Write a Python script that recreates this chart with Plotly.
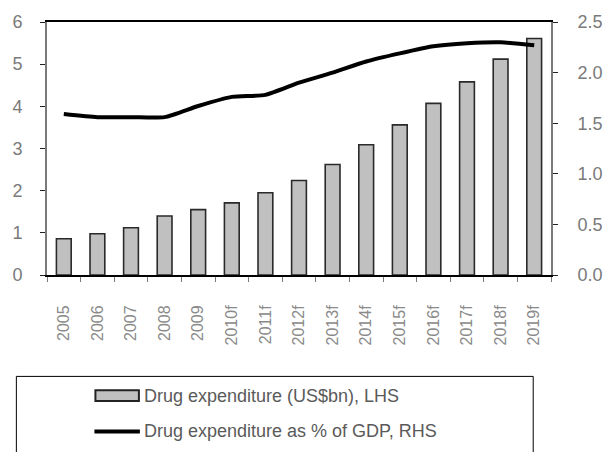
import plotly.graph_objects as go

years = ["2005", "2006", "2007", "2008", "2009", "2010f", "2011f", "2012f",
         "2013f", "2014f", "2015f", "2016f", "2017f", "2018f", "2019f"]
drug_spend_bn = [0.86, 0.98, 1.12, 1.40, 1.55, 1.71, 1.95, 2.24,
                 2.62, 3.09, 3.56, 4.07, 4.58, 5.12, 5.61]
spend_pct_gdp = [1.59, 1.56, 1.56, 1.56, 1.67, 1.76, 1.78, 1.90,
                 2.00, 2.11, 2.19, 2.26, 2.29, 2.30, 2.27]
left_ticks = [0, 1, 2, 3, 4, 5, 6]
right_ticks = [0.0, 0.5, 1.0, 1.5, 2.0, 2.5]
bar_label = "Drug expenditure (US$bn), LHS"
line_label = "Drug expenditure as % of GDP, RHS"

W, H = 615, 452
L, R, T, B = 45, 60, 18, 177
PW, PH = W - L - R, H - T - B
FONT = "Liberation Sans, Arial, sans-serif"
GREY = "#7a7a7a"


def px(x):
    return (x - L) / PW


def py(y):
    return (H - B - y) / PH


fig = go.Figure()
fig.add_trace(go.Bar(
    x=years, y=drug_spend_bn, name=bar_label, width=0.44,
    marker=dict(color="#c0c0c0", line=dict(color="#2a2a2a", width=1.6)),
    yaxis="y",
))
fig.add_trace(go.Scatter(
    x=years, y=spend_pct_gdp, name=line_label, mode="lines",
    line=dict(color="black", width=4, shape="spline", smoothing=0.6),
    yaxis="y2",
))

# legend drawn as a framed box under the axis labels
shapes = [
    dict(type="rect", xref="paper", yref="paper",
         x0=px(14), x1=px(537), y0=py(378), y1=py(470),
         line=dict(color="black", width=1), fillcolor="rgba(0,0,0,0)"),
    dict(type="rect", xref="paper", yref="paper",
         x0=px(94), x1=px(138), y0=py(392), y1=py(403),
         line=dict(color="#222", width=2), fillcolor="#c0c0c0"),
    dict(type="line", xref="paper", yref="paper",
         x0=px(93), x1=px(139), y0=py(434), y1=py(434),
         line=dict(color="black", width=4)),
]
annotations = [
    dict(text=bar_label, xref="paper", yref="paper", x=px(141), y=py(398),
         xanchor="left", yanchor="middle", showarrow=False,
         font=dict(family=FONT, size=18, color="#5a5a5a")),
    dict(text=line_label, xref="paper", yref="paper", x=px(141), y=py(433),
         xanchor="left", yanchor="middle", showarrow=False,
         font=dict(family=FONT, size=18, color="#5a5a5a")),
]

fig.update_layout(
    width=W, height=H,
    margin=dict(l=L, r=R, t=T, b=B),
    paper_bgcolor="white", plot_bgcolor="white",
    showlegend=False,
    font=dict(family=FONT, size=16, color=GREY),
    xaxis=dict(
        type="category", showline=True, linecolor="black", linewidth=2,
        mirror=True, ticks="outside", tickson="boundaries", ticklen=5,
        tickcolor=GREY, tickangle=-90, ticklabelstandoff=22,
        tickfont=dict(size=16, color="#8a8a8a"), showgrid=False,
    ),
    yaxis=dict(
        range=[0, 6], tickvals=left_ticks, ticktext=[str(v) for v in left_ticks],
        showline=True, linecolor=GREY, linewidth=2, ticks="outside",
        ticklen=5, tickcolor="#222", showgrid=False, zeroline=False,
        ticklabelstandoff=14, tickfont=dict(size=18, color=GREY),
    ),
    yaxis2=dict(
        range=[0, 2.5], tickvals=right_ticks,
        ticktext=[f"{v:.1f}" for v in right_ticks],
        overlaying="y", side="right",
        showline=True, linecolor=GREY, linewidth=2, ticks="outside",
        ticklen=5, tickcolor="#222", showgrid=False, zeroline=False,
        ticklabelstandoff=16, tickfont=dict(size=18, color=GREY),
    ),
    shapes=shapes, annotations=annotations,
)

fig.write_html("out.html")
